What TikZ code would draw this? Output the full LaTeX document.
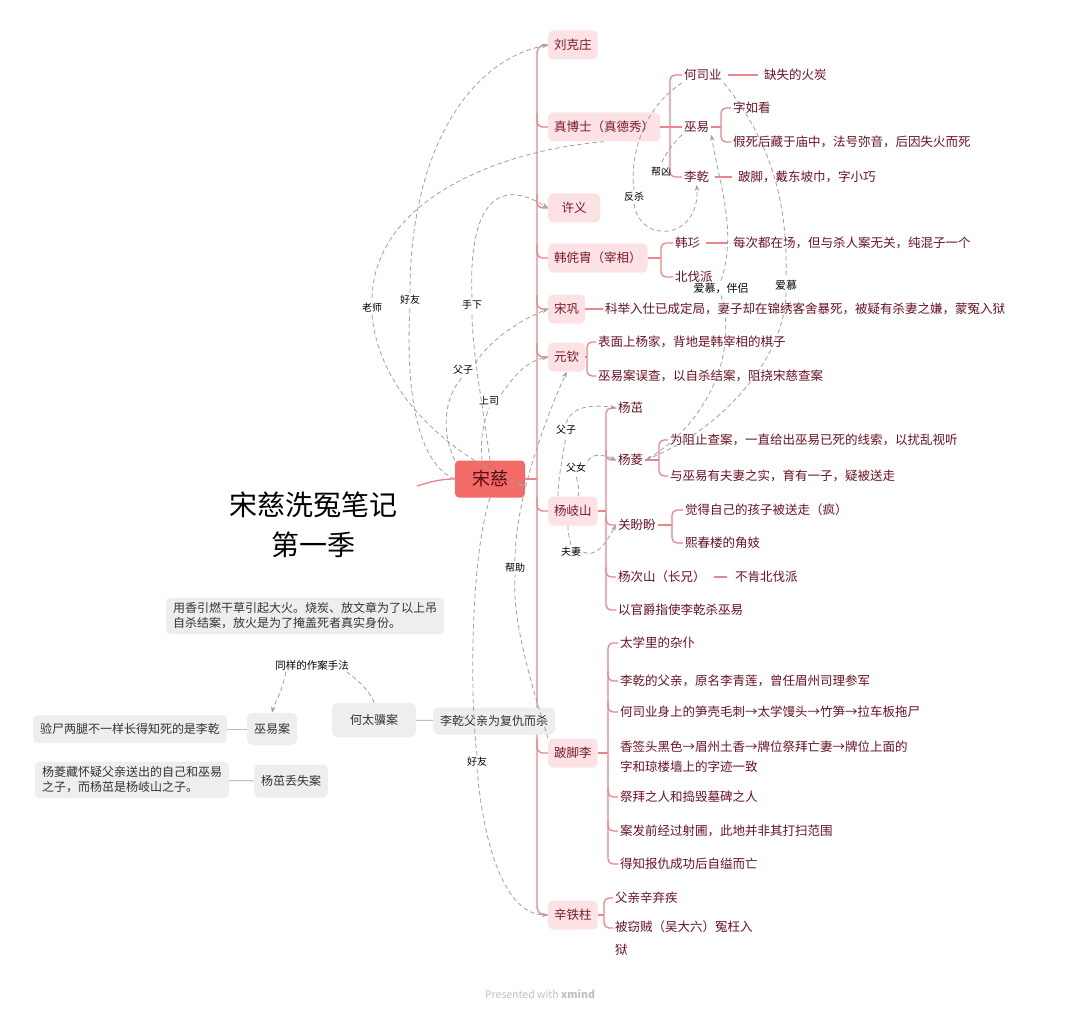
\documentclass[tikz,border=0pt]{standalone}
\usepackage{fontspec}
\setmainfont{Noto Sans CJK SC}
\usetikzlibrary{arrows.meta}
\definecolor{brl}{HTML}{E8878B}
\definecolor{mfill}{HTML}{FCE2E4}
\definecolor{mtext}{HTML}{7B1A2A}
\definecolor{stext}{HTML}{6A1222}
\definecolor{cfill}{HTML}{F26B67}
\definecolor{ctext}{HTML}{5A0A10}
\definecolor{gfill}{HTML}{EEEEEE}
\definecolor{gtext}{HTML}{333333}
\definecolor{relc}{HTML}{A0A0A0}
\definecolor{gline}{HTML}{BDBDBD}
\begin{document}
\begin{tikzpicture}[x=1pt,y=-1pt,
  mnode/.style={fill=mfill,text=mtext,rounded corners=5pt,anchor=west,inner xsep=6pt,inner ysep=2pt,minimum height=29pt,font=\fontsize{12.5}{15}\selectfont},
  snode/.style={text=stext,anchor=west,inner sep=2pt,font=\fontsize{12.5}{15}\selectfont},
  gnode/.style={fill=gfill,text=gtext,rounded corners=5pt,inner xsep=7pt,inner ysep=5pt,font=\fontsize{12}{15}\selectfont},
  brl/.style={draw=brl,line width=1.3pt},
  rc/.style={rounded corners=5pt},
  reln/.style={draw=relc,line width=0.8pt,dash pattern=on 4.5pt off 3pt},
  rel/.style={reln,-{Stealth[length=6pt,width=4.5pt]}},
  rlab/.style={inner sep=2pt,text=black,font=\fontsize{10}{12}\selectfont},
  glin/.style={draw=gline,line width=1pt}]
\useasboundingbox (0,0) rectangle (1080,1014);
\fill[white] (0,0) rectangle (1080,1014);

% ---------- central node ----------
\node[fill=cfill,text=ctext,rounded corners=4pt,minimum width=70pt,minimum height=37pt,font=\fontsize{18}{20}\selectfont] (songci) at (490,479) {宋慈};
\coordinate (lefttail) at (417,486);

% ---------- main nodes ----------
\node[mnode] (liukz) at (548,45) {刘克庄};
\node[mnode] (zhenbs) at (548,127) {真博士（真德秀）};
\node[mnode,minimum width=52pt] (xuyi) at (548,208) {许义};
\node[mnode] (hantz) at (548,258) {韩侂胄（宰相）};
\node[mnode] (songgong) at (548,309) {宋巩};
\node[mnode] (yuanqin) at (548,357) {元钦};
\node[mnode] (yangqs) at (548,511) {杨岐山};
\node[mnode] (bojiaoli) at (548,753) {跛脚李};
\node[mnode] (xintiezhu) at (548,915) {辛铁柱};

% ---------- sub nodes ----------
\node[snode] (hesiye) at (682,75) {何司业};
\node[snode] (quehuo) at (762,75) {缺失的火炭};
\node[snode] (wuyi) at (682,127) {巫易};
\node[snode] (ruk) at (731,108) {字如看};
\node[snode] (jiasi) at (731,142) {假死后藏于庙中，法号弥音，后因失火而死};
\node[snode] (liqian) at (682,177) {李乾};
\node[snode] (bojiao) at (736,177) {跛脚，戴东坡巾，字小巧};

\node[snode] (hanwei) at (673,243) {韩㣉};
\node[snode] (meici) at (731,243) {每次都在场，但与杀人案无关，纯混子一个};
\node[snode] (beifa) at (673,277) {北伐派};

\node[snode] (kejv) at (603,309) {科举入仕已成定局，妻子却在锦绣客舍暴死，被疑有杀妻之嫌，蒙冤入狱};

\node[snode] (yq1) at (596,342) {表面上杨家，背地是韩宰相的棋子};
\node[snode] (yq2) at (596,376) {巫易案误查，以自杀结案，阻挠宋慈查案};

\node[snode] (yangzhuo) at (616,408) {杨茁};
\node[snode] (yangling) at (616,460) {杨菱};
\node[snode] (yl1) at (668,440) {为阻止查案，一直给出巫易已死的线索，以扰乱视听};
\node[snode] (yl2) at (668,476) {与巫易有夫妻之实，育有一子，疑被送走};
\node[snode] (guanpp) at (616,525) {关盼盼};
\node[snode] (gp1) at (683,510) {觉得自己的孩子被送走（疯）};
\node[snode] (gp2) at (683,543) {熙春楼的角妓};
\node[snode] (yangcs) at (616,577) {杨次山（长兄）};
\node[snode] (bukeng) at (733,577) {不肯北伐派};
\node[snode] (yiguan) at (616,610) {以官爵指使李乾杀巫易};

\node[snode] (b1) at (618,643) {太学里的杂仆};
\node[snode] (b2) at (618,681) {李乾的父亲，原名李青莲，曾任眉州司理参军};
\node[snode] (b3) at (618,712) {何司业身上的笋壳毛刺→太学馒头→竹笋→拉车板拖尸};
\node[snode,align=left] (b4) at (618,757) {香签头黑色→眉州土香→牌位祭拜亡妻→牌位上面的\\[5pt]字和琼楼墙上的字迹一致};
\node[snode] (b5) at (618,797) {祭拜之人和捣毁墓碑之人};
\node[snode] (b6) at (618,831) {案发前经过射圃，此地并非其打扫范围};
\node[snode] (b7) at (618,864) {得知报仇成功后自缢而亡};

\node[snode] (x1) at (613,898) {父亲辛弃疾};
\node[snode,align=left,anchor=north west] (x2) at (613,919) {被窃贼（吴大六）冤枉入\\[8pt]狱};
\coordinate (x2a) at (613,928);

% ---------- red branch lines ----------
\draw[brl,rounded corners=8pt] (liukz.west) -| (537,480) |- (xintiezhu.west);
\foreach \n/\y in {zhenbs/127,xuyi/208,hantz/258,songgong/309,yuanqin/357,yangqs/511,bojiaoli/753}
  \draw[brl,rounded corners=6pt] (537,\y-14) |- (\n.west);
\draw[brl] (songci.east) -- (537,479);
\draw[brl] (songci.west) .. controls (440,479) and (430,482) .. (lefttail);

\draw[brl] (zhenbs.east) -- (wuyi.west);
\draw[brl,rc] (hesiye.west) -| (670,127) |- (liqian.west);
\draw[brl] ([xshift=4pt]hesiye.east) -- ([xshift=-4pt]quehuo.west);
\draw[brl] (wuyi.east) -- (721,127);
\draw[brl,rc] (ruk.west) -| (721,127) |- (jiasi.west);
\draw[brl] ([xshift=4pt]liqian.east) -- ([xshift=-4pt]bojiao.west);

\draw[brl] (hantz.east) -- (661,258);
\draw[brl,rc] (hanwei.west) -| (661,258) |- (beifa.west);
\draw[brl] ([xshift=4pt]hanwei.east) -- ([xshift=-3pt]meici.west);

\draw[brl] (songgong.east) -- (kejv.west);

\draw[brl] (yuanqin.east) -- (587,357);
\draw[brl,rc] (yq1.west) -| (587,357) |- (yq2.west);

\draw[brl] (yangqs.east) -- (606,511);
\draw[brl,rc] (yangzhuo.west) -| (606,511) |- (yiguan.west);
\foreach \n/\y in {yangling/460,guanpp/525,yangcs/577}
  \draw[brl,rc] (606,\y-10) |- (\n.west);
\draw[brl] (yangling.east) -- (659,460);
\draw[brl,rc] (yl1.west) -| (659,460) |- (yl2.west);
\draw[brl] (guanpp.east) -- (672,525);
\draw[brl,rc] (gp1.west) -| (672,525) |- (gp2.west);
\draw[brl] ([xshift=6pt]yangcs.east) -- ([xshift=-6pt]bukeng.west);

\draw[brl] (bojiaoli.east) -- (608,753);
\draw[brl,rc] (b1.west) -| (608,753) |- (b7.west);
\foreach \n/\y in {b2/681,b3/712,b5/797,b6/831}
  \draw[brl,rc] (608,\y-10) |- (\n.west);

\draw[brl] (xintiezhu.east) -- (604,915);
\draw[brl,rc] (x1.west) -| (604,915) |- (x2a);

% ---------- left side ----------
\node[align=center,text=black,font=\fontsize{28}{40}\selectfont] (title) at (313,525) {宋慈洗冤笔记\\第一季};
\node[gnode,align=left] (note) at (305,616) {用香引燃干草引起大火。烧炭、放文章为了以上吊\\自杀结案，放火是为了掩盖死者真实身份。};
\node[rlab,font=\fontsize{10.5}{12}\selectfont] (tonglab) at (312,665) {同样的作案手法};
\node[gnode,minimum width=49pt,minimum height=32pt] (wuyian) at (272,729) {巫易案};
\node[gnode,minimum height=28pt] (yanshi) at (130,729) {验尸两腿不一样长得知死的是李乾};
\node[gnode,minimum width=84pt,minimum height=34pt] (hetaiji) at (374,720) {何太骥案};
\node[gnode,minimum height=27pt] (liqianfq) at (494,721) {李乾父亲为复仇而杀};
\node[gnode,minimum height=33pt] (yangzhuoan) at (291,781) {杨茁丢失案};
\node[gnode,align=left] (yanglingc) at (132,780) {杨菱藏怀疑父亲送出的自己和巫易\\之子，而杨茁是杨岐山之子。};
\draw[glin] (yanshi) -- (wuyian);
\draw[glin] (hetaiji) -- (liqianfq);
\draw[glin] (yanglingc) -- (yangzhuoan);
\draw[reln] (hetaiji.north) .. controls (372,695) and (362,683) .. ([xshift=-4pt]tonglab.south east);
\draw[rel] ([xshift=-26pt]tonglab.south) .. controls (280,698) and (274,704) .. (wuyian.north);

% ---------- relation labels ----------
\node[rlab] (lhy1) at (410,300) {好友};
\node[rlab] (lls) at (372,308) {老师};
\node[rlab] (lsx) at (472,305) {手下};
\node[rlab] (lfz1) at (463,370) {父子};
\node[rlab] (lss) at (489,401) {上司};
\node[rlab] (lbz) at (515,568) {帮助};
\node[rlab] (lhy2) at (477,762) {好友};
\node[rlab] (lfs) at (634,197) {反杀};
\node[rlab] (lbx) at (661,172) {帮凶};
\node[rlab,font=\fontsize{11}{13}\selectfont] (lam1) at (721,288) {爱慕，伴侣};
\node[rlab,font=\fontsize{11}{13}\selectfont] (lam2) at (786,285) {爱慕};
\node[rlab] (lfz2) at (566,430) {父子};
\node[rlab] (lfn) at (576,468) {父女};
\node[rlab] (lfq) at (571,552) {夫妻};

% ---------- relations ----------
% 好友 -> 刘克庄
\draw[reln] (songci.west) .. controls (420,465) and (405,400) .. (lhy1.south);
\draw[rel] (lhy1.north) .. controls (410,150) and (470,60) .. (liukz.west);
% 老师
\draw[reln] (zhenbs.south) .. controls (500,150) and (372,200) .. (lls.north);
\draw[rel] (lls.south) .. controls (380,400) and (460,460) .. ([yshift=-7pt]songci.east);
% 手下 -> 许义
\draw[reln] (songci.north) .. controls (482,400) and (472,350) .. (lsx.south);
\draw[rel] (lsx.north) .. controls (468,200) and (500,178) .. (xuyi.west);
% 父子 -> 宋巩
\draw[reln] (songci.north west) .. controls (440,430) and (445,395) .. (lfz1.south);
\draw[rel] (lfz1.north east) .. controls (490,340) and (520,320) .. (songgong.west);
% 上司 -> 元钦
\draw[reln] ([xshift=-8pt]songci.north) .. controls (480,440) and (483,425) .. (lss.south);
\draw[rel] (lss.north east) .. controls (515,375) and (525,362) .. (yuanqin.west);
% 帮助
\draw[reln] (bojiaoli.north west) .. controls (530,680) and (512,620) .. (lbz.south);
\draw[rel] (lbz.north) .. controls (515,500) and (545,420) .. (yuanqin.south);
% 好友 -> 辛铁柱
\draw[reln] (songci.south) .. controls (470,560) and (470,700) .. (lhy2.north);
\draw[rel] (lhy2.south) .. controls (485,860) and (510,915) .. (xintiezhu.west);
% 反杀
\draw[reln] (hesiye.south west) .. controls (640,110) and (630,160) .. (lfs.north);
\draw[rel] (lfs.south) .. controls (640,245) and (700,240) .. (liqian.south);
% 帮凶
\draw[reln] (wuyi.south west) .. controls (672,145) and (664,155) .. (lbx.north);
% 爱慕，伴侣
\draw[rel] (lam1.north) .. controls (738,230) and (718,180) .. (wuyi.south east);
\draw[reln] (lam1.south) .. controls (740,360) and (700,430) .. (yangling.east);
% 爱慕
\draw[reln] (hesiye.south east) .. controls (770,140) and (788,200) .. (lam2.north);
\draw[rel] (lam2.south) .. controls (785,360) and (720,430) .. (yangling.east);
% 父子 -> 杨茁
\draw[reln] ([xshift=10pt]yangqs.north west) .. controls (558,480) and (562,460) .. (lfz2.south);
\draw[rel] (lfz2.north) .. controls (570,410) and (585,403) .. (yangzhuo.west);
% 父女 -> 杨菱
\draw[reln] ([xshift=30pt]yangqs.north west) .. controls (580,490) and (578,485) .. (lfn.south);
\draw[rel] (lfn.north east) .. controls (590,455) and (600,453) .. (yangling.west);
% 夫妻 -> 关盼盼
\draw[reln] ([xshift=20pt]yangqs.south west) .. controls (568,535) and (570,540) .. (lfq.north);
\draw[rel] (lfq.east) .. controls (595,558) and (605,545) .. (guanpp.west);

% ---------- footer ----------
\node[text=black!25,font=\fontsize{10.5}{12}\selectfont] (footer) at (540,994) {Presented with \textbf{xmind}};
\end{tikzpicture}
\end{document}
